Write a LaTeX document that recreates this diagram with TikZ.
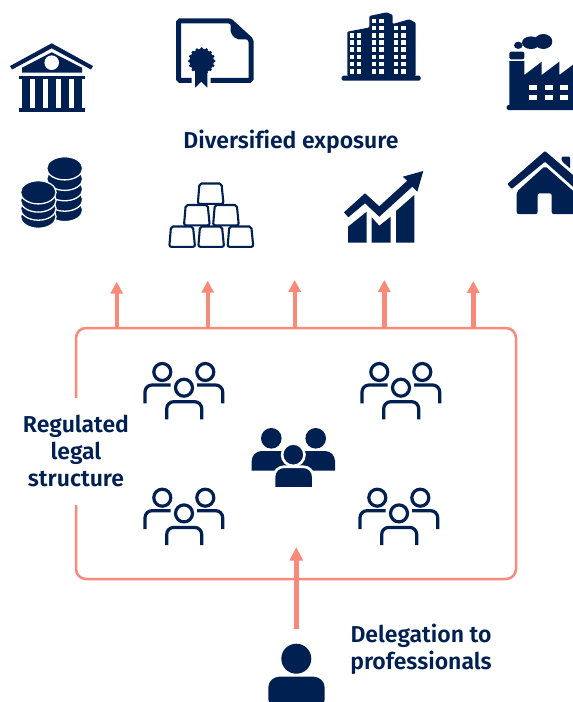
\documentclass[tikz,border=0pt]{standalone}
\usepackage{fontspec}
\setmainfont{Fira Sans}[UprightFont=* Medium,BoldFont=* SemiBold,Ligatures=NoCommon]
\usetikzlibrary{arrows.meta}
\definecolor{navy}{HTML}{002052}
\definecolor{salmon}{HTML}{F98A79}
\tikzset{
  caption/.style={text=navy, font=\fontsize{23}{27}\selectfont\bfseries, align=center, inner sep=0pt},
  riser/.style={salmon, line width=4.4pt, -{Triangle[length=12pt,width=12pt]}},
  halo/.style={fill=navy, draw=white, line width=2.6pt},
  pics/team/.style={code={
    \draw [navy, line width=3.2pt] (-21.7,-15.7) circle (8.5) ;
    \draw [navy, line width=3.2pt] (21.3,-15.7) circle (8.5) ;
    \draw [navy, line width=3.2pt] (0,0) circle (8.5) ;
    \draw [navy, line width=3.2pt, rounded corners=7pt] (-39,15.6) -- (-39,-2.7) -- (-13.3,-2.7) ;
    \draw [navy, line width=3.2pt, rounded corners=7pt] (38.7,15.6) -- (38.7,-2.7) -- (13,-2.7) ;
    \draw [navy, line width=3.2pt, rounded corners=7pt] (-17.3,31.6) -- (-17.3,14) -- (17.7,14) -- (17.7,31.6) ;
  }},
  pics/goldbar/.style={code={
    \draw [navy, line width=2.1pt, rounded corners=2pt] (-12.7,20.3) -- (-11,0) -- (11,0) -- (13,20.3) -- cycle ;
  }},
}
\begin{document}
\begin{tikzpicture}[x=1pt, y=-1pt]
  \useasboundingbox (0,0) rectangle (573,702) ;
  \def\boxcolor{salmon}

  % bank
  \fill [navy] (51.7,43.3) -- (93,66) -- (91,69.5) -- (51.7,48.3) -- (12,69.5) -- (10,66) -- cycle ;
  \fill [navy] (51.7,52.3) -- (82,67.7) -- (82,72.7) -- (22,72.7) -- (22,67.7) -- cycle ;
  \fill [white] (51.7,62.7) circle (7.3) ;
  \fill [navy] (19.3,76) rectangle (85.3,79.3) ;
  \fill [navy] (19.3,107.5) rectangle (85.3,111.7) ;
  \foreach \colx in {26,39,51.7,65,78}
    \fill [navy] (\colx-4,79) rectangle (\colx+4,108) ;

  % certificate
  \draw [navy, line width=5pt, rounded corners=1.5pt] (191.5,80.3) -- (178.5,80.3) -- (178.5,20.8) -- (230,20.8) -- (251,40) -- (251,80.3) -- (210.5,80.3) ;
  \fill [navy, rounded corners=2pt] (230.7,19) -- (253,39.3) -- (236.5,39.3) -- (230.7,33.5) -- cycle ;
  \fill [navy] (195,68) -- (195,87.7) -- (201.3,81.7) -- (207.3,87.7) -- (207.3,68) -- cycle ;
  \fill [navy] (201.7,61) circle (12.3) ;
  \foreach \ang in {0,22.5,...,337.5}
    \fill [navy] (201.7,61) ++(\ang:12.3) circle (1.6) ;

  % buildings
  \fill [navy, rounded corners=1.5pt] (341.7,75.7) rectangle (420.7,80.7) ;
  \fill [navy, rounded corners=1pt] (347.3,76) -- (347.3,31.7) -- (369.3,27.5) -- (369.3,16) -- (386.7,12.3) -- (392.7,15) -- (392.7,24) -- (409.3,19.3) -- (415.7,22.7) -- (415.7,76) -- cycle ;
  \foreach \winx/\first in {349.5/1,356.5/1,371.5/-1,379/-1,393.5/0,401/0}
    \foreach \row in {\first,...,6}
      \fill [white] (\winx,69-7.2*6+7.2*\row) rectangle ++(4.8,4.6) ;

  % factory
  \fill [navy, rounded corners=1.5pt] (506.7,105) rectangle (580,110) ;
  \fill [navy, rounded corners=2pt] (509.3,51.7) rectangle (524.3,59.3) ;
  \fill [navy] (509.3,61) -- (524.3,61) -- (524.3,75) -- (541.7,61.7) -- (541.7,75) -- (559.3,61.7) -- (559.3,75) -- (577,61.7) -- (577,106) -- (509.3,106) -- cycle ;
  \foreach \winx in {529.3,544.5,560}
    \foreach \winy in {85,95}
      \fill [white] (\winx,\winy) rectangle ++(8,5) ;
  \fill [navy] (543.3,41.5) ellipse [x radius=9, y radius=7.5] ;
  \fill [navy] (531,42.7) ellipse [x radius=9, y radius=6.3] ;
  \fill [navy] (518.3,45.3) ellipse [x radius=4.3, y radius=3.6] ;

  % coins
  \foreach \coiny in {210,199.6,189.2,178.8,168.3}
    \filldraw [navy, draw=white, line width=1.3pt] (64.7,\coiny) ellipse [x radius=18, y radius=11.6] ;
  \foreach \coiny in {216.7,208.6,200.5,192.3}
    \filldraw [navy, draw=white, line width=1.3pt] (38.3,\coiny) ellipse [x radius=17.8, y radius=11.6] ;

  % gold bars
  \foreach \barx/\bary in {182/226.5,211/226.5,240.3/226.5,196.7/205,225.8/205,210.5/183.5}
    \pic at (\barx,\bary) {goldbar} ;

  % chart
  \fill [navy] (344,212.3) -- (365,193.3) -- (379.3,206.3) -- (407.3,180.7) -- (402.7,176.7) -- (423.3,171) -- (417.3,191.7) -- (412.3,186.7) -- (379.3,216.7) -- (365,203.3) -- (348.3,217.3) -- cycle ;
  \fill [navy] (348,226.7) -- (366.7,211.7) -- (366.7,242.7) -- (348,242.7) -- cycle ;
  \fill [navy] (371.7,217.3) -- (379.3,225.7) -- (390.7,216.7) -- (390.7,242.7) -- (371.7,242.7) -- cycle ;
  \fill [navy] (396,211) -- (414.3,195) -- (414.3,242.7) -- (396,242.7) -- cycle ;

  % house
  \fill [navy, rounded corners=1pt] (507.3,184) -- (545,151) -- (580,181) -- (580,193) -- (545,161.7) -- (511.7,189) -- cycle ;
  \fill [navy, rounded corners=1pt] (561.7,156.7) -- (570,156.7) -- (570,168.5) -- (561.7,161) -- cycle ;
  \fill [navy, rounded corners=2pt] (516.7,191.7) -- (545,166) -- (580,197) -- (580,214) -- (551.7,214) -- (551.7,193.3) -- (537.7,193.3) -- (537.7,214) -- (516.7,214) -- cycle ;

  \node [caption] (exposure) at (291,141.5) {Diversified exposure} ;

  % legal structure
  \node [draw=\boxcolor, line width=2.5pt, rounded corners=10pt, minimum width=440pt, minimum height=251pt] (structure) at (296,453.5) {} ;
  \node [caption, fill=white, minimum height=107pt] (legal) at (76,451) {Regulated\\legal\\structure} ;

  \coordinate (tipa) at (116.7,281.7) ;
  \coordinate (tipb) at (207.7,280.7) ;
  \coordinate (tipc) at (294.7,280) ;
  \coordinate (tipd) at (384.3,280) ;
  \coordinate (tipe) at (473.3,281) ;
  \foreach \tip in {tipa,tipb,tipc,tipd,tipe}
    \draw [riser] (\tip |- structure.north) -- (\tip) ;

  \pic at (184,387.7) {team} ;
  \pic at (401,387.7) {team} ;
  \pic at (184,513.4) {team} ;
  \pic at (399,513.4) {team} ;

  % core team
  \fill [navy] (271.3,438.3) circle (10.3) ;
  \fill [navy] (315.7,438.3) circle (10.3) ;
  \fill [navy] (251.7,470.5) [rounded corners=10pt] -- (251.7,451) -- (335,451) [sharp corners] -- (335,470.5) -- cycle ;
  \filldraw [halo] (293.3,454.7) circle (11.2) ;
  \filldraw [halo] (274,490) [rounded corners=10pt] -- (274,466.7) -- (313.3,466.7) [sharp corners] -- (313.3,490) -- cycle ;
  \fill [white] (270,487) rectangle (318,492) ;

  % manager
  \node [circle, fill=navy, minimum size=30pt, inner sep=0pt] (manager) at (296.3,658.7) {} ;
  \fill [navy, rounded corners=11pt] (268.3,710) -- (268.3,676.7) -- (324.7,676.7) -- (324.7,710) -- cycle ;
  \coordinate (tail) at (296.3,629) ;
  \coordinate (head) at (296.3,547) ;
  \draw [riser, line width=4.7pt, -{Triangle[length=13.5pt,width=12.7pt]}] (tail) -- (head) ;
  \node [caption] (delegation) at (421,649.5) {Delegation to\\professionals} ;
\end{tikzpicture}
\end{document}
